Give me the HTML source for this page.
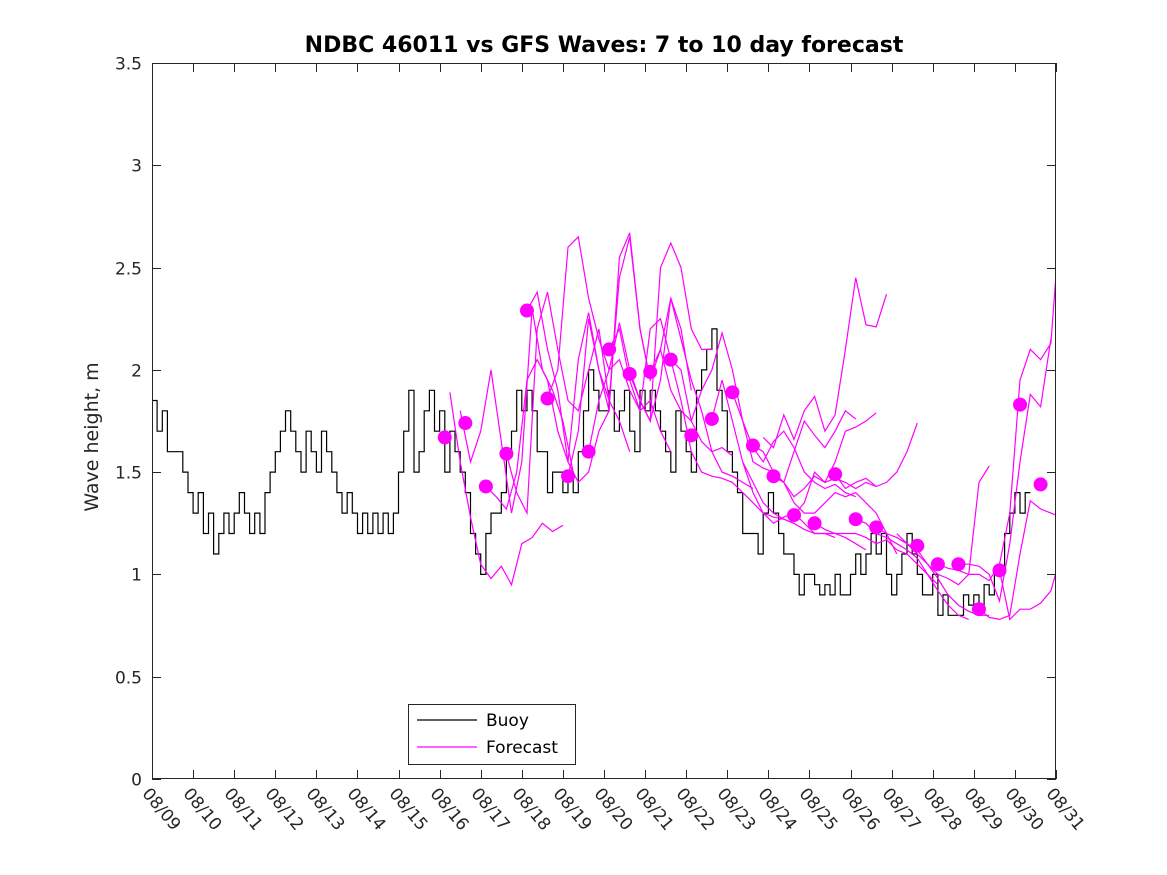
<!DOCTYPE html>
<html><head><meta charset="utf-8"><style>
html,body{margin:0;padding:0;background:#fff;}
svg{display:block;font-family:"DejaVu Sans","Liberation Sans",sans-serif;}
</style></head><body>
<svg id="chart" width="1167" height="875"></svg>
<script>
const NS="http://www.w3.org/2000/svg";
const xTickLabels=["08/09","08/10","08/11","08/12","08/13","08/14","08/15","08/16","08/17","08/18","08/19","08/20","08/21","08/22","08/23","08/24","08/25","08/26","08/27","08/28","08/29","08/30","08/31"];
const yTicks=[0,0.5,1,1.5,2,2.5,3,3.5];
const yTickLabels=["0","0.5","1","1.5","2","2.5","3","3.5"];
const buoyStep=0.125;
const buoyVals=[1.85,1.7,1.8,1.6,1.6,1.6,1.5,1.4, 1.3,1.4,1.2,1.3,1.1,1.2,1.3,1.2, 1.3,1.4,1.3,1.2,1.3,1.2,1.4,1.5, 1.6,1.7,1.8,1.7,1.6,1.5,1.7,1.6, 1.5,1.7,1.6,1.5,1.4,1.3,1.4,1.3, 1.2,1.3,1.2,1.3,1.2,1.3,1.2,1.3, 1.5,1.7,1.9,1.5,1.6,1.8,1.9,1.7, 1.8,1.5,1.7,1.6,1.5,1.4,1.2,1.1, 1.0,1.2,1.3,1.3,1.4,1.6,1.7,1.9, 1.8,1.9,1.8,1.6,1.6,1.4,1.5,1.5, 1.4,1.5,1.4,1.6,1.8,2.0,1.9,1.8, 1.8,1.9,1.7,1.8,1.9,1.7,1.6,1.9, 1.8,1.9,1.8,1.7,1.6,1.5,1.8,1.7, 1.6,1.5,1.9,2.0,2.1,2.2,1.9,1.8, 1.6,1.5,1.4,1.2,1.2,1.2,1.1,1.3, 1.4,1.3,1.2,1.1,1.1,1.0,0.9,1.0, 1.0,0.95,0.9,0.95,0.9,1.0,0.9,0.9, 1.0,1.1,1.0,1.1,1.2,1.1,1.2,1.0, 0.9,1.0,1.1,1.2,1.1,1.0,0.9,0.9, 1.0,0.8,0.9,0.8,0.8,0.8,0.9,0.85, 0.9,0.85,0.95,0.9,1.0,1.0,1.2,1.3, 1.4,1.3,1.4];
const fcStep=0.25;
const fcStarts=[7.25,7.5,8.125,8.625,9.125,9.625,10.125,10.625,11.125,11.625,12.125,12.625,13.625,14.125,14.625,15.125,15.625,16.625,14.875,17.125,17.625,19.125,19.625,20.125,20.625,18.125,14.375,16.125,15.125];
const fcVals=[
[1.89,1.55,1.28,1.05,0.98,1.04,0.95,1.15,1.18,1.25,1.21,1.24],
[1.8,1.55,1.7,2.0,1.65,1.3,1.55,2.3,2.0,1.9,1.75,1.5],
[1.43,1.38,1.32,1.5,1.95,2.05,1.95,1.7,1.55,2.05,2.28,2.0,1.8],
[1.59,1.4,1.3,2.2,2.38,2.1,1.85,1.8,2.0,2.2,1.85,1.75,1.6],
[2.29,2.38,2.1,1.9,1.55,1.45,1.5,1.7,1.8,2.55,2.67,2.2,1.95],
[1.86,2.0,2.6,2.65,2.35,2.15,2.0,2.05,1.9,1.8,1.85,1.7,1.6],
[1.48,1.7,2.25,2.0,1.85,2.45,2.65,2.2,1.95,2.1,2.35,2.2,1.9],
[1.6,1.85,2.0,2.23,2.0,1.85,1.75,2.5,2.62,2.5,2.2,2.1,2.1],
[2.1,2.2,1.95,1.8,2.2,2.25,2.05,2.0,1.75,1.65,1.6,1.62,1.58],
[1.98,1.85,1.75,1.95,2.35,2.15,1.95,1.8,1.6,1.5,1.48,1.45,1.42],
[1.99,2.1,1.9,1.8,1.75,1.9,2.0,2.18,2.0,1.75,1.55,1.52,1.5],
[2.05,1.85,1.6,1.5,1.48,1.47,1.45,1.4,1.35,1.3,1.28,1.27,1.25],
[1.76,1.95,1.75,1.55,1.45,1.35,1.3,1.27,1.25,1.22,1.2,1.2,1.18],
[1.89,1.75,1.62,1.55,1.65,1.7,1.62,1.5,1.45,1.42,1.44,1.4,1.38],
[1.63,1.6,1.5,1.45,1.38,1.42,1.48,1.45,1.47,1.45,1.42,1.45,1.43],
[1.48,1.45,1.6,1.75,1.68,1.62,1.7,1.8,1.76],
[1.29,1.35,1.5,1.45,1.55,1.7,1.72,1.75,1.79],
[1.49,1.42,1.45,1.47,1.43,1.45,1.5,1.6,1.74],
[1.67,1.62,1.78,1.66,1.8,1.87,1.7,1.78,2.1,2.45,2.22,2.21,2.37],
[1.27,1.25,1.2,1.18,1.15,1.12,1.08,1.0,0.92,0.85,0.8,0.78],
[1.23,1.2,1.18,1.15,1.12,1.05,0.98,0.9,0.85,0.82,0.8,0.8],
[1.05,1.03,1.02,1.0,1.0,0.97,1.05,1.3,1.95,2.1,2.05,2.13,2.8],
[1.05,1.05,1.04,1.0,0.87,1.15,1.55,1.88,1.82,2.15],
[0.83,0.79,0.78,0.8,1.1,1.36,1.32,1.3,1.28],
[1.02,0.78,0.83,0.83,0.86,0.92,1.1],
[1.2,1.15,1.1,1.05,1.0,0.98,0.95,1.0,1.45,1.53],
[1.55,1.4,1.3,1.25,1.28,1.3,1.25,1.2,1.2,1.2,1.18,1.15,1.12],
[1.25,1.22,1.2,1.2,1.2,1.18,1.15,1.17,1.12,1.1,1.05,1.0,0.95],
[1.48,1.45,1.35,1.3,1.3,1.35,1.4,1.38,1.4,1.35,1.3,1.2,1.1]
];
const dotStart=7.125;
const dotStep=0.5;
const dotVals=[1.67,1.74,1.43,1.59,2.29,1.86,1.48,1.60,2.10,1.98,1.99,2.05,1.68,1.76,1.89,1.63,1.48,1.29,1.25,1.49,1.27,1.23,null,1.14,1.05,1.05,0.83,1.02,1.83,1.44];

const L=152,R=1056,T=63,B=779,DAYS=22,YMAX=3.5;
const xs=d=>L+(R-L)*d/DAYS;
const ys=v=>B-(B-T)*v/YMAX;
const svg=document.getElementById('chart');
function mk(tag,attrs,parent){const e=document.createElementNS(NS,tag);for(const k in attrs)e.setAttribute(k,attrs[k]);(parent||svg).appendChild(e);return e;}

const defs=mk('defs',{});
const cp=mk('clipPath',{id:'pc'},defs);mk('rect',{x:L,y:T,width:R-L,height:B-T},cp);

const bg=mk('rect',{x:L,y:T,width:R-L,height:B-T,fill:'#fff'});



const title=mk('text',{x:604,y:52,'text-anchor':'middle','font-size':22,'font-weight':'bold',fill:'#000'});
title.textContent="NDBC 46011 vs GFS Waves: 7 to 10 day forecast";



const yl=mk('text',{x:0,y:0,'text-anchor':'middle','font-size':19,fill:'#262626',transform:'translate(98,437) rotate(-90)'});
yl.textContent="Wave height, m";



const data=mk('g',{'clip-path':'url(#pc)'});



let bp=[];
buoyVals.forEach((v,i)=>{
  const x0=xs(i*buoyStep).toFixed(1), x1=xs((i+1)*buoyStep).toFixed(1), y=ys(v).toFixed(1);
  bp.push(x0+','+y); bp.push(x1+','+y);
});
const buoy=mk('polyline',{points:bp.join(' '),fill:'none',stroke:'#000','stroke-width':1.2},data);



fcVals.forEach((arr,j)=>{
  const p=arr.map((v,i)=>xs(fcStarts[j]+i*fcStep).toFixed(1)+','+ys(v).toFixed(1)).join(' ');
  const ln=mk('polyline',{points:p,fill:'none',stroke:'#ff00ff','stroke-width':1.2},data);
  
  
});
dotVals.forEach((v,k)=>{
  if(v===null)return;
  const c=mk('circle',{cx:xs(dotStart+k*dotStep),cy:ys(v),r:7,fill:'#ff00ff'},data);
  
  
});

const ax=mk('g',{stroke:'#262626','stroke-width':1,fill:'none'});


mk('rect',{x:L+0.5,y:T+0.5,width:R-L-1,height:B-T-1},ax);
yTicks.forEach((v,i)=>{
  const y=Math.round(ys(v))+0.5;
  mk('line',{x1:L,y1:y,x2:L+9,y2:y},ax);
  mk('line',{x1:R-9,y1:y,x2:R,y2:y},ax);
  const t=mk('text',{x:L-10,y:y+6,'text-anchor':'end','font-size':17,fill:'#262626',stroke:'none'});
  t.textContent=yTickLabels[i];
  
  
});
xTickLabels.forEach((lab,i)=>{
  const x=Math.round(xs(i))+0.5;
  mk('line',{x1:x,y1:B,x2:x,y2:B-9},ax);
  mk('line',{x1:x,y1:T,x2:x,y2:T+9},ax);
  const t=mk('text',{x:0,y:0,'font-size':17,fill:'#262626',stroke:'none',transform:`translate(${x-11},${B+15}) rotate(50)`});
  t.textContent=lab;
  
  
});

const lg=mk('g',{});


mk('rect',{x:408.5,y:704.5,width:167,height:60,fill:'#fff',stroke:'#262626','stroke-width':1},lg);
mk('line',{x1:417,y1:720,x2:477,y2:720,stroke:'#000','stroke-width':1.2},lg);
mk('line',{x1:417,y1:747,x2:477,y2:747,stroke:'#ff00ff','stroke-width':1.2},lg);
const t1=mk('text',{x:486,y:726,'font-size':17,fill:'#000'},lg);t1.textContent="Buoy";


const t2=mk('text',{x:486,y:753,'font-size':17,fill:'#000'},lg);t2.textContent="Forecast";


</script>
</body></html>
